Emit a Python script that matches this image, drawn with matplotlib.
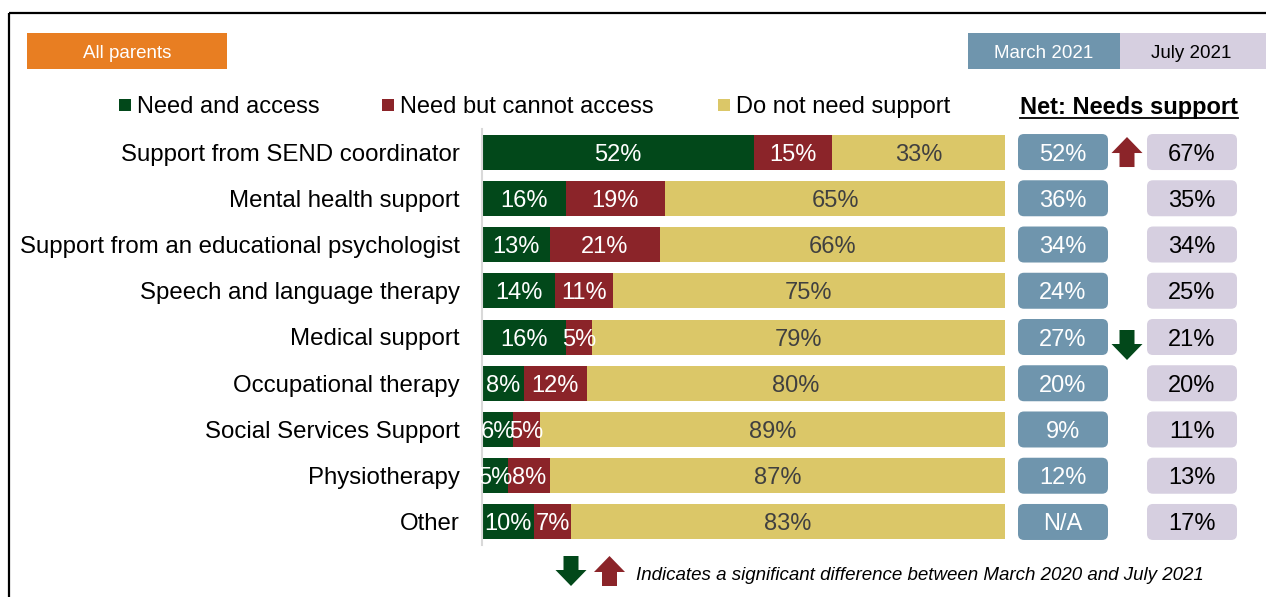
import matplotlib
matplotlib.use('Agg')
import matplotlib.pyplot as plt
from matplotlib.patches import Rectangle, FancyBboxPatch, Polygon
import numpy as np

plt.rcParams['font.family'] = ['Liberation Sans', 'DejaVu Sans']

# Survey results: share of parents per support type (%)
services = ['Support from SEND coordinator', 'Mental health support',
            'Support from an educational psychologist', 'Speech and language therapy',
            'Medical support', 'Occupational therapy', 'Social Services Support',
            'Physiotherapy', 'Other']
need_access = [52, 16, 13, 14, 16, 8, 6, 5, 10]
need_no_access = [15, 19, 21, 11, 5, 12, 5, 8, 7]
no_need = [33, 65, 66, 75, 79, 80, 89, 87, 83]
net_march = [52, 36, 34, 24, 27, 20, 9, 12, None]
sig_change = ['up', None, None, None, 'down', None, None, None, None]

GREEN = '#02481A'
RED = '#8B2429'
YELLOW = '#DBC768'
ORANGE = '#E87E22'
MARCH = '#6F95AD'
JULY = '#D6CFE0'
VA = 'center_baseline'

W, H = 1266, 597
fig = plt.figure(figsize=(W / 100, H / 100), dpi=100)

# background layer in pixel units for frame, headers, legend and footer
bg = fig.add_axes([0, 0, 1, 1])
bg.set_xlim(0, W)
bg.set_ylim(H, 0)
bg.axis('off')


def arrow(ax, cx, cy, direction, color, ys=1.0):
    # block arrow, 31px wide and 30px tall; ys converts px to data y
    h, head, hw, sw = 30, 16, 15.5, 7.5
    pts = [(0, -h / 2), (hw, -h / 2 + head), (sw, -h / 2 + head), (sw, h / 2),
           (-sw, h / 2), (-sw, -h / 2 + head), (-hw, -h / 2 + head)]
    sign = 1 if direction == 'up' else -1
    pts = [(cx + x, cy + sign * y * ys) for x, y in pts]
    ax.add_patch(Polygon(pts, closed=True, facecolor=color, edgecolor='none'))


# outer frame
bg.add_patch(Rectangle((9, 12.5), 1270, 600, fill=False, edgecolor='black', linewidth=1.6))

# header boxes
bg.add_patch(Rectangle((27, 33), 200, 36, facecolor=ORANGE, edgecolor='none'))
bg.text(127, 51, 'All parents', color='white', fontsize=13.5, ha='center', va=VA)
bg.add_patch(Rectangle((968, 33), 152, 36, facecolor=MARCH, edgecolor='none'))
bg.text(1044, 51, 'March 2021', color='white', fontsize=13.5, ha='center', va=VA)
bg.add_patch(Rectangle((1120, 33), 150, 36, facecolor=JULY, edgecolor='none'))
bg.text(1191, 51, 'July 2021', color='black', fontsize=13.5, ha='center', va=VA)

# legend
legend_items = [('Need and access', GREEN, 119), ('Need but cannot access', RED, 382),
                ('Do not need support', YELLOW, 718)]
for label, col, x0 in legend_items:
    bg.add_patch(Rectangle((x0, 99), 12, 12, facecolor=col, edgecolor='none'))
    bg.text(x0 + 18, 104.5, label, fontsize=17, ha='left', va=VA)

# net column title
bg.text(1129, 105, 'Net: Needs support', fontsize=17, fontweight='bold',
        ha='center', va=VA)
bg.plot([1020, 1238], [118, 118], color='black', linewidth=1.3)

# footer note
arrow(bg, 571, 571, 'down', GREEN)
arrow(bg, 609.5, 571, 'up', RED)
bg.text(636, 573, 'Indicates a significant difference between March 2020 and July 2021',
        fontsize=13.5, style='italic', ha='left', va=VA)

# stacked bars
top, bottom = 128.9, 545.1
row_px = (bottom - top) / len(services)
ax = fig.add_axes([482 / W, 1 - bottom / H, 523 / W, (bottom - top) / H])
ax.patch.set_alpha(0)
y = np.arange(len(services))
bar_h = 35 / row_px
left2 = np.array(need_access)
left3 = left2 + np.array(need_no_access)
b1 = ax.barh(y, need_access, height=bar_h, color=GREEN)
b2 = ax.barh(y, need_no_access, left=left2, height=bar_h, color=RED)
b3 = ax.barh(y, no_need, left=left3, height=bar_h, color=YELLOW)
for bars, vals, tcol in [(b1, need_access, 'white'), (b2, need_no_access, 'white'),
                         (b3, no_need, '#404040')]:
    texts = ax.bar_label(bars, labels=[f'{v}%' for v in vals], label_type='center',
                         color=tcol, fontsize=17)
    for t in texts:
        t.set_va(VA)
ax.set_xlim(0, 100)
ax.set_ylim(len(services) - 0.5, -0.5)
ax.set_yticks(y)
ax.set_yticklabels(services, fontsize=17.3, va=VA)
ax.tick_params(axis='y', length=0, pad=16)
ax.set_xticks([])
for s in ['top', 'right', 'bottom']:
    ax.spines[s].set_visible(False)
ax.spines['left'].set_color('#D9D9D9')
ax.spines['left'].set_linewidth(1.5)

# net "needs support" boxes for both waves
net = fig.add_axes([1010 / W, 1 - bottom / H, 240 / W, (bottom - top) / H])
net.set_xlim(1010, 1250)
net.set_ylim(len(services) - 0.5, -0.5)
net.axis('off')
box_h = 36 / row_px
for i in range(len(services)):
    july_val = need_access[i] + need_no_access[i]
    march_txt = 'N/A' if net_march[i] is None else f'{net_march[i]}%'
    for x0, col, txt, tcol in [(1018, MARCH, march_txt, 'white'),
                               (1147, JULY, f'{july_val}%', 'black')]:
        net.add_patch(FancyBboxPatch((x0, i - box_h / 2), 90, box_h,
                                     boxstyle='round,pad=0,rounding_size=6',
                                     mutation_aspect=1 / row_px,
                                     facecolor=col, edgecolor='none'))
        net.text(x0 + 45, i, txt, color=tcol, fontsize=17, ha='center', va=VA)
    if sig_change[i] == 'up':
        arrow(net, 1127, i, 'up', RED, ys=1 / row_px)
    elif sig_change[i] == 'down':
        arrow(net, 1127, i + 8 / row_px, 'down', GREEN, ys=1 / row_px)

fig.savefig('out.png', dpi=100)
